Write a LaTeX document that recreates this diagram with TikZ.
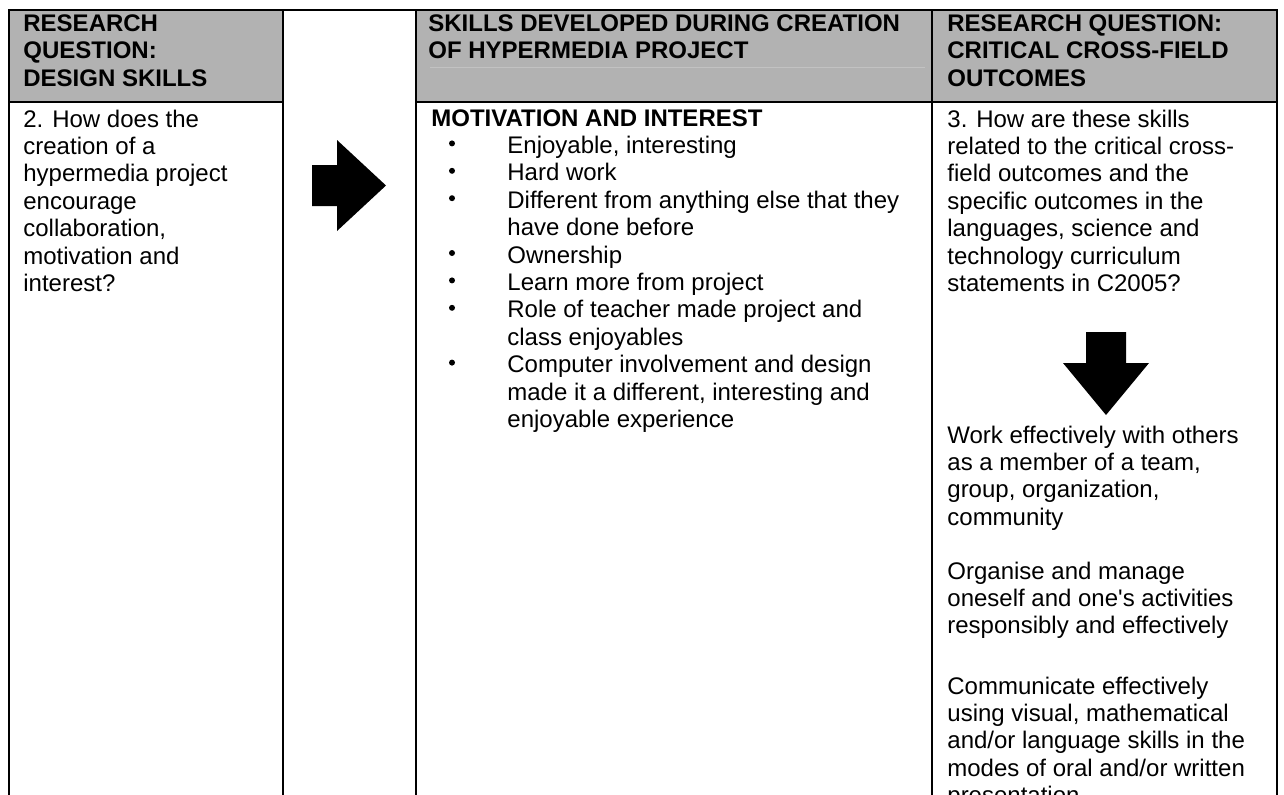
\documentclass[tikz,border=0pt]{standalone}
\usepackage{fontspec}
\setmainfont{Liberation Sans}
\usetikzlibrary{calc}
\colorlet{headgray}{black!30}
\tikzset{
  tabline/.style={line width=.65pt},
  headfill/.style={fill=headgray},
  cell/.style={anchor=base west,inner sep=0pt,align=left,font=\fontsize{12}{13.7}\selectfont},
  hcell/.style={cell,font=\fontsize{12}{13.7}\selectfont\bfseries},
  fat/.style={fill=black},
}
\begin{document}
\begin{tikzpicture}[x=.5pt,y=-.5pt]
	\useasboundingbox (0,0) rectangle (1284,794);
	\clip (0,0) rectangle (1284,794);
	% header shading
	\fill[headfill] (9,10) rectangle (283,102);
	\fill[headfill] (416,10) rectangle (1277,102);
	\draw[black!24,line width=.3pt] (430,67) -- (925,67);
	% rules
	\draw[tabline] (9,830) -- (9,10) -- (1277,10) -- (1277,830);
	\foreach \c in {283,416,932}
		\draw[tabline] (\c,10) -- (\c,830);
	\draw[tabline] (9,102) -- (283,102);
	\draw[tabline] (416,102) -- (1277,102);
	% headers (base anchor sits on the last line)
	\node[hcell] (hdesign) at (23,86.3) {RESEARCH\\QUESTION:\\DESIGN SKILLS};
	\node[hcell] (hskills) at (428,58.9) {SKILLS DEVELOPED DURING CREATION\\OF HYPERMEDIA PROJECT};
	\node[hcell] (hcross) at (947,86.3) {RESEARCH QUESTION:\\CRITICAL CROSS-FIELD\\OUTCOMES};
	% body
	\node[cell] (qdesign) at (23,291.4) {2. How does the\\creation of a\\hypermedia project\\encourage\\collaboration,\\motivation and\\interest?};
	\node[hcell] (motiv) at (431,126) {MOTIVATION AND INTEREST};
	\node[cell] (items) at (507,427.4) {Enjoyable, interesting\\Hard work\\Different from anything else that they\\have done before\\Ownership\\Learn more from project\\Role of teacher made project and\\class enjoyables\\Computer involvement and design\\made it a different, interesting and\\enjoyable experience};
	\foreach \k in {0,1,2,4,5,6,8}
		\fill (452,153.4+27.4*\k-10) circle (1.5pt);
	\node[cell] (qcross) at (947,291.4) {3. How are these skills\\related to the critical cross-\\field outcomes and the\\specific outcomes in the\\languages, science and\\technology curriculum\\statements in C2005?};
	\node[cell] (team) at (947,525.2) {Work effectively with others\\as a member of a team,\\group, organization,\\community};
	\node[cell] (manage) at (947,633.8) {Organise and manage\\oneself and one\textquotesingle s activities\\responsibly and effectively};
	\node[cell] (comm) at (947,803.6) {Communicate effectively\\using visual, mathematical\\and/or language skills in the\\modes of oral and/or written\\presentation};
	% block arrows
	\fill[fat] (312,165) -- (337,165) -- (337,140) -- (386,185.5) -- (337,231) -- (337,206) -- (312,206) -- cycle;
	\fill[fat] (1086,332) -- (1126,332) -- (1126,363) -- (1149,363) -- (1106,415) -- (1063,363) -- (1086,363) -- cycle;
\end{tikzpicture}
\end{document}
